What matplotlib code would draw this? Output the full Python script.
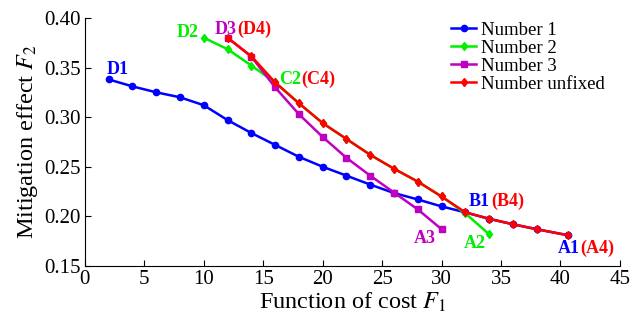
#!/usr/bin/env python3
import matplotlib
matplotlib.use('Agg')
import matplotlib.pyplot as plt

plt.rcParams['font.family'] = ['Liberation Serif', 'DejaVu Serif']
plt.rcParams['mathtext.fontset'] = 'stix'

# Number 1
x1 = [2, 4, 6, 8, 10, 12, 14, 16, 18, 20, 22, 24, 26, 28, 30, 32, 34, 36, 38, 40.6]
y1 = [0.338, 0.331, 0.325, 0.320, 0.312, 0.297, 0.284, 0.272, 0.260, 0.250,
      0.241, 0.232, 0.2235, 0.217, 0.210, 0.204, 0.1975, 0.192, 0.187, 0.181]
# Number 2
x2 = [10, 12, 14, 16, 18, 20, 22, 24, 26, 28, 30, 32, 34]
y2 = [0.380, 0.3685, 0.352, 0.335, 0.314, 0.294, 0.278, 0.262, 0.248, 0.235,
      0.220, 0.203, 0.182]
# Number 3
x3 = [12, 14, 16, 18, 20, 22, 24, 26, 28, 30]
y3 = [0.380, 0.361, 0.330, 0.303, 0.280, 0.259, 0.241, 0.224, 0.207, 0.187]
# Number unfixed
x4 = [12, 14, 16, 18, 20, 22, 24, 26, 28, 30, 32, 34, 36, 38, 40.6]
y4 = [0.380, 0.3614, 0.335, 0.314, 0.294, 0.278, 0.262, 0.248, 0.235, 0.220,
      0.204, 0.1975, 0.192, 0.187, 0.181]

labels = ['Number 1', 'Number 2', 'Number 3', 'Number unfixed']
yticks = [0.15, 0.20, 0.25, 0.30, 0.35, 0.40]

fig = plt.figure(figsize=(6.43, 3.2), dpi=100)
ax = fig.add_axes([0.132, 0.169, 0.832, 0.775])

blue, green, mag, red = '#0000ff', '#00ee00', '#c000c0', '#ff0000'
ax.plot(x1, y1, color=blue, lw=1.8, marker='o', ms=4.5, label=labels[0])
ax.plot(x2, y2, color=green, lw=1.8, marker='d', ms=4.5, label=labels[1])
ax.plot(x3, y3, color=mag, lw=1.8, marker='s', ms=4.5, label=labels[2])
ax.plot(x4, y4, color=red, lw=1.8, marker='d', ms=4.5, label=labels[3])

ax.set_xlim(0, 45)
ax.set_ylim(0.15, 0.40)
ax.set_xticks(range(0, 46, 5))
ax.set_yticks(yticks)
ax.set_yticklabels(['{:.2f}'.format(v) for v in yticks])
ax.tick_params(direction='in', labelsize=15, length=4, pad=3)
ax.spines['top'].set_visible(False)
ax.spines['right'].set_visible(False)

ax.set_xlabel('Function of cost $F_1$', fontsize=17.5, labelpad=1)
ax.set_ylabel('Mitigation effect $F_2$', fontsize=17.5, labelpad=3)

# point annotations
f = dict(fontsize=13, fontweight='bold', va='center')
ax.text(1.8, 0.348, 'D1', color=blue, **f)
ax.text(7.7, 0.385, 'D2', color=green, **f)
ax.text(10.9, 0.388, 'D3', color=mag, **f)
ax.text(12.8, 0.388, '(D4)', color=red, **f)
ax.text(16.3, 0.3376, 'C2', color=green, **f)
ax.text(18.2, 0.3376, '(C4)', color=red, **f)
ax.text(32.3, 0.2146, 'B1', color=blue, **f)
ax.text(34.2, 0.2146, '(B4)', color=red, **f)
ax.text(27.7, 0.1776, 'A3', color=mag, **f)
ax.text(31.9, 0.1725, 'A2', color=green, **f)
ax.text(39.8, 0.1675, 'A1', color=blue, **f)
ax.text(41.7, 0.1675, '(A4)', color=red, **f)

ax.legend(loc='upper left', bbox_to_anchor=(0.685, 0.985), frameon=False,
          fontsize=13.5, handlelength=1.3, handletextpad=0.3, labelspacing=0.05,
          borderpad=0, borderaxespad=0)

fig.savefig('out.png', dpi=100)
